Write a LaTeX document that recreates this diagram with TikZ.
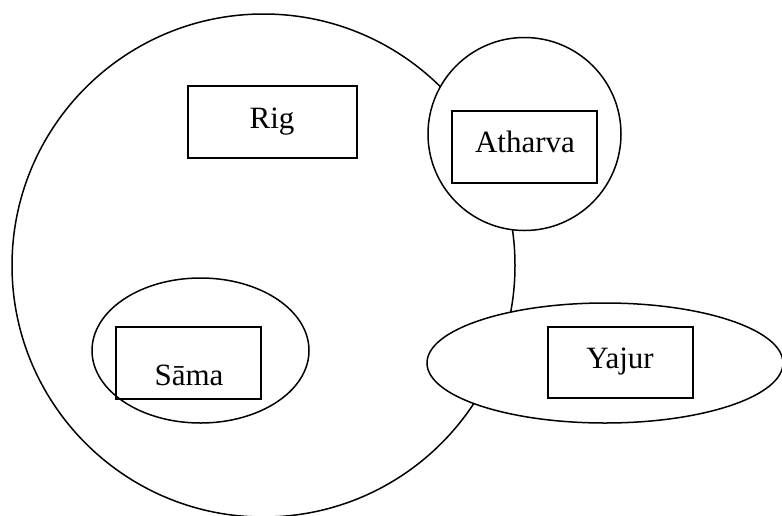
\documentclass[tikz,border=0pt]{standalone}
\usepackage{fontspec}
\setmainfont{Liberation Serif}
\usetikzlibrary{shapes.geometric}
\begin{document}
\begin{tikzpicture}[x=1pt,y=-1pt,line width=1.5pt,
  ring/.style={draw,circle,inner sep=0pt,fill=white},
  oval/.style={draw,ellipse,inner sep=0pt,fill=white},
  vbox/.style={draw,rectangle,inner sep=0pt},
  lbl/.style={anchor=base,inner sep=0pt,font=\fontsize{31}{36}\selectfont}]
\useasboundingbox (0,0) rectangle (782,515);
\node[ring,minimum size=503pt] (big) at (263.5,265.5) {};
\node[ring,minimum size=193pt] (ath) at (524.5,134) {};
\node[oval,minimum width=356pt,minimum height=120pt] (yaj) at (605,363) {};
\node[oval,minimum width=217pt,minimum height=145pt] (sam) at (200.5,350.5) {};
\node[vbox,minimum width=169pt,minimum height=72pt] (rigbox) at (272.5,122) {};
\node[vbox,minimum width=145pt,minimum height=72pt] (athbox) at (524.5,147) {};
\node[vbox,minimum width=145pt,minimum height=71pt] (yajbox) at (620.5,362.5) {};
\node[vbox,minimum width=145pt,minimum height=72pt] (sambox) at (188.5,363) {};
\node[lbl] (rigt) at (272,128) {Rig};
\node[lbl] (atht) at (525,152) {Atharva};
\node[lbl] (yajt) at (620,368) {Yajur};
\node[lbl] (samt) at (189,385) {Sāma};
\end{tikzpicture}
\end{document}
